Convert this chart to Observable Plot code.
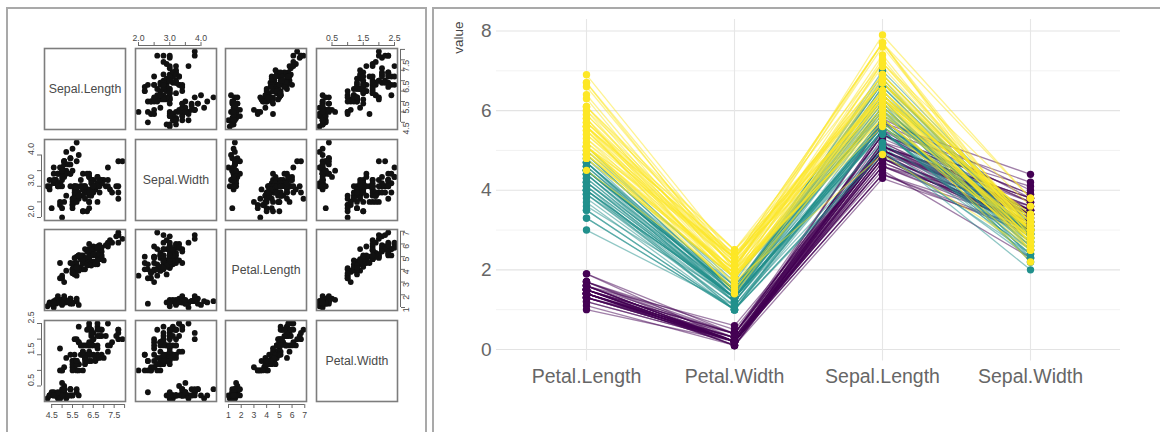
<!DOCTYPE html>
<html>
<head>
<meta charset="utf-8">
<script src="https://cdn.jsdelivr.net/npm/d3@7"></script>
<script src="https://cdn.jsdelivr.net/npm/@observablehq/plot@0.6"></script>
<style>
  body { margin: 0; background: #fff; font-family: "Liberation Sans", Arial, sans-serif; }
  #root { position: relative; width: 1160px; height: 432px; overflow: hidden; background: #fff; }
  .panelL { position: absolute; left: 6px; top: 7px; width: 417px; height: 500px; border: 2px solid #a9a9a9; }
  .panelR { position: absolute; left: 432px; top: 7px; width: 800px; height: 500px; border: 2px solid #a9a9a9; }
</style>
</head>
<body>
<div id="root"><div class="panelL"></div><div class="panelR"></div></div>
<script>
// ---- iris data (row order: 50 setosa, 50 versicolor, 50 virginica) ----
const sepalLength = [
  5.1,4.9,4.7,4.6,5.0,5.4,4.6,5.0,4.4,4.9,5.4,4.8,4.8,4.3,5.8,5.7,5.4,5.1,5.7,5.1,5.4,5.1,4.6,5.1,4.8,5.0,5.0,5.2,5.2,4.7,4.8,5.4,5.2,5.5,4.9,5.0,5.5,4.9,4.4,5.1,5.0,4.5,4.4,5.0,5.1,4.8,5.1,4.6,5.3,5.0,
  7.0,6.4,6.9,5.5,6.5,5.7,6.3,4.9,6.6,5.2,5.0,5.9,6.0,6.1,5.6,6.7,5.6,5.8,6.2,5.6,5.9,6.1,6.3,6.1,6.4,6.6,6.8,6.7,6.0,5.7,5.5,5.5,5.8,6.0,5.4,6.0,6.7,6.3,5.6,5.5,5.5,6.1,5.8,5.0,5.6,5.7,5.7,6.2,5.1,5.7,
  6.3,5.8,7.1,6.3,6.5,7.6,4.9,7.3,6.7,7.2,6.5,6.4,6.8,5.7,5.8,6.4,6.5,7.7,7.7,6.0,6.9,5.6,7.7,6.3,6.7,7.2,6.2,6.1,6.4,7.2,7.4,7.9,6.4,6.3,6.1,7.7,6.3,6.4,6.0,6.9,6.7,6.9,5.8,6.8,6.7,6.7,6.3,6.5,6.2,5.9
];
const sepalWidth = [
  3.5,3.0,3.2,3.1,3.6,3.9,3.4,3.4,2.9,3.1,3.7,3.4,3.0,3.0,4.0,4.4,3.9,3.5,3.8,3.8,3.4,3.7,3.6,3.3,3.4,3.0,3.4,3.5,3.4,3.2,3.1,3.4,4.1,4.2,3.1,3.2,3.5,3.6,3.0,3.4,3.5,2.3,3.2,3.5,3.8,3.0,3.8,3.2,3.7,3.3,
  3.2,3.2,3.1,2.3,2.8,2.8,3.3,2.4,2.9,2.7,2.0,3.0,2.2,2.9,2.9,3.1,3.0,2.7,2.2,2.5,3.2,2.8,2.5,2.8,2.9,3.0,2.8,3.0,2.9,2.6,2.4,2.4,2.7,2.7,3.0,3.4,3.1,2.3,3.0,2.5,2.6,3.0,2.6,2.3,2.7,3.0,2.9,2.9,2.5,2.8,
  3.3,2.7,3.0,2.9,3.0,3.0,2.5,2.9,2.5,3.6,3.2,2.7,3.0,2.5,2.8,3.2,3.0,3.8,2.6,2.2,3.2,2.8,2.8,2.7,3.3,3.2,2.8,3.0,2.8,3.0,2.8,3.8,2.8,2.8,2.6,3.0,3.4,3.1,3.0,3.1,3.1,3.1,2.7,3.2,3.3,3.0,2.5,3.0,3.4,3.0
];
const petalLength = [
  1.4,1.4,1.3,1.5,1.4,1.7,1.4,1.5,1.4,1.5,1.5,1.6,1.4,1.1,1.2,1.5,1.3,1.4,1.7,1.5,1.7,1.5,1.0,1.7,1.9,1.6,1.6,1.5,1.4,1.6,1.6,1.5,1.5,1.4,1.5,1.2,1.3,1.4,1.3,1.5,1.3,1.3,1.3,1.6,1.9,1.4,1.6,1.4,1.5,1.4,
  4.7,4.5,4.9,4.0,4.6,4.5,4.7,3.3,4.6,3.9,3.5,4.2,4.0,4.7,3.6,4.4,4.5,4.1,4.5,3.9,4.8,4.0,4.9,4.7,4.3,4.4,4.8,5.0,4.5,3.5,3.8,3.7,3.9,5.1,4.5,4.5,4.7,4.4,4.1,4.0,4.4,4.6,4.0,3.3,4.2,4.2,4.2,4.3,3.0,4.1,
  6.0,5.1,5.9,5.6,5.8,6.6,4.5,6.3,5.8,6.1,5.1,5.3,5.5,5.0,5.1,5.3,5.5,6.7,6.9,5.0,5.7,4.9,6.7,4.9,5.7,6.0,4.8,4.9,5.6,5.8,6.1,6.4,5.6,5.1,5.6,6.1,5.6,5.5,4.8,5.4,5.6,5.1,5.1,5.9,5.7,5.2,5.0,5.2,5.4,5.1
];
const petalWidth = [
  0.2,0.2,0.2,0.2,0.2,0.4,0.3,0.2,0.2,0.1,0.2,0.2,0.1,0.1,0.2,0.4,0.4,0.3,0.3,0.3,0.2,0.4,0.2,0.5,0.2,0.2,0.4,0.2,0.2,0.2,0.2,0.4,0.1,0.2,0.2,0.2,0.2,0.1,0.2,0.2,0.3,0.3,0.2,0.6,0.4,0.3,0.2,0.2,0.2,0.2,
  1.4,1.5,1.5,1.3,1.5,1.3,1.6,1.0,1.3,1.4,1.0,1.5,1.0,1.4,1.3,1.4,1.5,1.0,1.5,1.1,1.8,1.3,1.5,1.2,1.3,1.4,1.4,1.7,1.5,1.0,1.1,1.0,1.2,1.6,1.5,1.6,1.5,1.3,1.3,1.3,1.2,1.4,1.2,1.0,1.3,1.2,1.3,1.3,1.1,1.3,
  2.5,1.9,2.1,1.8,2.2,2.1,1.7,1.8,1.8,2.5,2.0,1.9,2.1,2.0,2.4,2.3,1.8,2.2,2.3,1.5,2.3,2.0,2.0,1.8,2.1,1.8,1.8,1.8,2.1,1.6,1.9,2.0,2.2,1.5,1.4,2.3,2.4,1.8,1.8,2.1,2.4,2.3,1.9,2.3,2.5,2.3,1.9,2.0,2.3,1.8
];
const speciesNames = ["setosa", "versicolor", "virginica"];
const speciesCounts = [50, 50, 50];
const speciesColors = ["#440154", "#21908C", "#FDE725"];

// scatter-matrix variables and tick labels
const matrixVars = ["Sepal.Length", "Sepal.Width", "Petal.Length", "Petal.Width"];
const matrixTicks = {
  "Sepal.Length": [4.5, 5, 5.5, 6, 6.5, 7, 7.5, 8],
  "Sepal.Width": [2, 2.5, 3, 3.5, 4],
  "Petal.Length": [1, 2, 3, 4, 5, 6, 7],
  "Petal.Width": [0.5, 1, 1.5, 2, 2.5]
};
const matrixTickLabels = {
  "Sepal.Length": ["4.5", "5.5", "6.5", "7.5"],
  "Sepal.Width": ["2.0", "3.0", "4.0"],
  "Petal.Length": ["1", "2", "3", "4", "5", "6", "7"],
  "Petal.Width": ["0.5", "1.5", "2.5"]
};

// parallel coordinates
const parcoordVars = ["Petal.Length", "Petal.Width", "Sepal.Length", "Sepal.Width"];
const valueMajorTicks = [0, 2, 4, 6, 8];
const valueMinorTicks = [1, 3, 5, 7];

// ---- build tables ----
const columns = {
  "Sepal.Length": sepalLength, "Sepal.Width": sepalWidth,
  "Petal.Length": petalLength, "Petal.Width": petalWidth
};
const species = speciesNames.flatMap((s, i) => Array(speciesCounts[i]).fill(s));
const N = sepalLength.length;

const root = document.getElementById("root");
const FONT = '"Liberation Sans", Arial, sans-serif';

function extendRange(v, f) {
  const [lo, hi] = d3.extent(v);
  const r = hi - lo;
  return [lo - f * r, hi + f * r];
}
const domains = Object.fromEntries(matrixVars.map(v => [v, extendRange(columns[v], 0.04)]));

// ---- scatter matrix ----
const M = 30, S = 81, PITCH = 90.5, X0 = 44.3, Y0 = 48.3;
const boxColor = "#7d7d7d", axisColor = "#6a6a6a", tickText = "#474747";

function cell(i, j) {
  const xv = matrixVars[j], yv = matrixVars[i];
  const marks = [];
  const xd = domains[xv], yd = domains[yv];
  if (i === j) {
    marks.push(Plot.frame({stroke: boxColor, strokeWidth: 1.6}));
    marks.push(Plot.text([xv], {frameAnchor: "middle", fontSize: 12.3, fill: "#4a4a4a"}));
  } else {
    const rows = d3.range(N).map(k => ({x: columns[xv][k], y: columns[yv][k]}));
    marks.push(Plot.dot(rows, {x: "x", y: "y", r: 2.9, fill: "#111"}));
    marks.push(Plot.frame({stroke: boxColor, strokeWidth: 1.6}));
  }
  const lab = (v) => matrixTickLabels[v].map(t => ({v: +t, t}));
  // top axis
  if (i === 0 && j % 2 === 1) {
    const t = matrixTicks[xv];
    marks.push(Plot.ruleY([yd[1]], {x1: t[0], x2: t[t.length - 1], dy: -3, stroke: axisColor}));
    marks.push(Plot.axisX(t, {anchor: "top", tickSize: 4, dy: -3, tickFormat: () => "", stroke: axisColor, label: null}));
    marks.push(Plot.text(lab(xv), {x: "v", text: "t", frameAnchor: "top", dy: -14, fontSize: 8.7, fill: tickText}));
  }
  // bottom axis
  if (i === 3 && j % 2 === 0) {
    const t = matrixTicks[xv];
    marks.push(Plot.ruleY([yd[0]], {x1: t[0], x2: t[t.length - 1], dy: 3, stroke: axisColor}));
    marks.push(Plot.axisX(t, {anchor: "bottom", tickSize: 4, dy: 3, tickFormat: () => "", stroke: axisColor, label: null}));
    marks.push(Plot.text(lab(xv), {x: "v", text: "t", frameAnchor: "bottom", dy: 16, fontSize: 8.7, fill: tickText}));
  }
  // left axis
  if (j === 0 && i % 2 === 1) {
    const t = matrixTicks[yv];
    marks.push(Plot.ruleX([xd[0]], {y1: t[0], y2: t[t.length - 1], dx: -3, stroke: axisColor}));
    marks.push(Plot.axisY(t, {anchor: "left", tickSize: 4, dx: -3, tickFormat: () => "", stroke: axisColor, label: null}));
    marks.push(Plot.text(lab(yv), {y: "v", text: "t", frameAnchor: "left", dx: -13, rotate: -90, fontSize: 8.7, fill: tickText}));
  }
  // right axis
  if (j === 3 && i % 2 === 0) {
    const t = matrixTicks[yv];
    marks.push(Plot.ruleX([xd[1]], {y1: t[0], y2: t[t.length - 1], dx: 3, stroke: axisColor}));
    marks.push(Plot.axisY(t, {anchor: "right", tickSize: 4, dx: 3, tickFormat: () => "", stroke: axisColor, label: null}));
    marks.push(Plot.text(lab(yv), {y: "v", text: "t", frameAnchor: "right", dx: 9, rotate: -90, fontSize: 8.7, fill: tickText}));
  }
  const svg = Plot.plot({
    width: S + 2 * M, height: S + 2 * M,
    marginTop: M, marginRight: M, marginBottom: M, marginLeft: M,
    x: {domain: xd, axis: null},
    y: {domain: yd, axis: null},
    style: {background: "transparent", overflow: "visible", fontFamily: FONT},
    marks
  });
  svg.style.position = "absolute";
  svg.style.left = (X0 + j * PITCH - M) + "px";
  svg.style.top = (Y0 + i * PITCH - M) + "px";
  svg.style.background = "transparent";
  svg.style.overflow = "visible";
  root.appendChild(svg);
}
for (let i = 0; i < 4; i++) for (let j = 0; j < 4; j++) cell(i, j);

// ---- parallel coordinates ----
const long = [];
for (let k = 0; k < N; k++) {
  for (const v of parcoordVars) long.push({id: k, species: species[k], variable: v, value: columns[v][k]});
}
const valueDomain = extendRange(long.map(d => d.value), 0.05);

const pc = Plot.plot({
  width: 727, height: 424,
  marginLeft: 63, marginRight: 40, marginTop: 11, marginBottom: 71.5,
  x: {type: "point", domain: parcoordVars, padding: 0.6, axis: null},
  y: {domain: valueDomain, axis: null},
  color: {domain: speciesNames, range: speciesColors},
  style: {background: "transparent", fontFamily: FONT},
  marks: [
    Plot.gridY(valueMinorTicks, {stroke: "#efefef", strokeOpacity: 1, strokeWidth: 0.8}),
    Plot.gridY(valueMajorTicks, {stroke: "#e3e3e3", strokeOpacity: 1, strokeWidth: 1.1}),
    Plot.ruleX(parcoordVars, {x: d => d, stroke: "#e6e6e6", strokeWidth: 1.1}),
    Plot.line(long, {x: "variable", y: "value", z: "id", stroke: "species", strokeOpacity: 0.5, strokeWidth: 1.3}),
    Plot.dot(long, {x: "variable", y: "value", fill: "species", r: 3.7}),
    Plot.axisY(valueMajorTicks, {anchor: "left", tickSize: 0, tickPadding: 5, fontSize: 19, fill: "#666", label: null}),
    Plot.axisX(parcoordVars, {anchor: "bottom", tickSize: 0, tickPadding: 8, fontSize: 19.5, fill: "#666", label: null}),
    Plot.text(["value"], {frameAnchor: "top-left", dx: -38, dy: 18, rotate: -90, textAnchor: "middle", lineAnchor: "middle", fontSize: 13.5, fill: "#444"})
  ]
});
pc.style.position = "absolute";
pc.style.left = "433px";
pc.style.top = "8px";
pc.style.background = "transparent";
root.appendChild(pc);
</script>
</body>
</html>
